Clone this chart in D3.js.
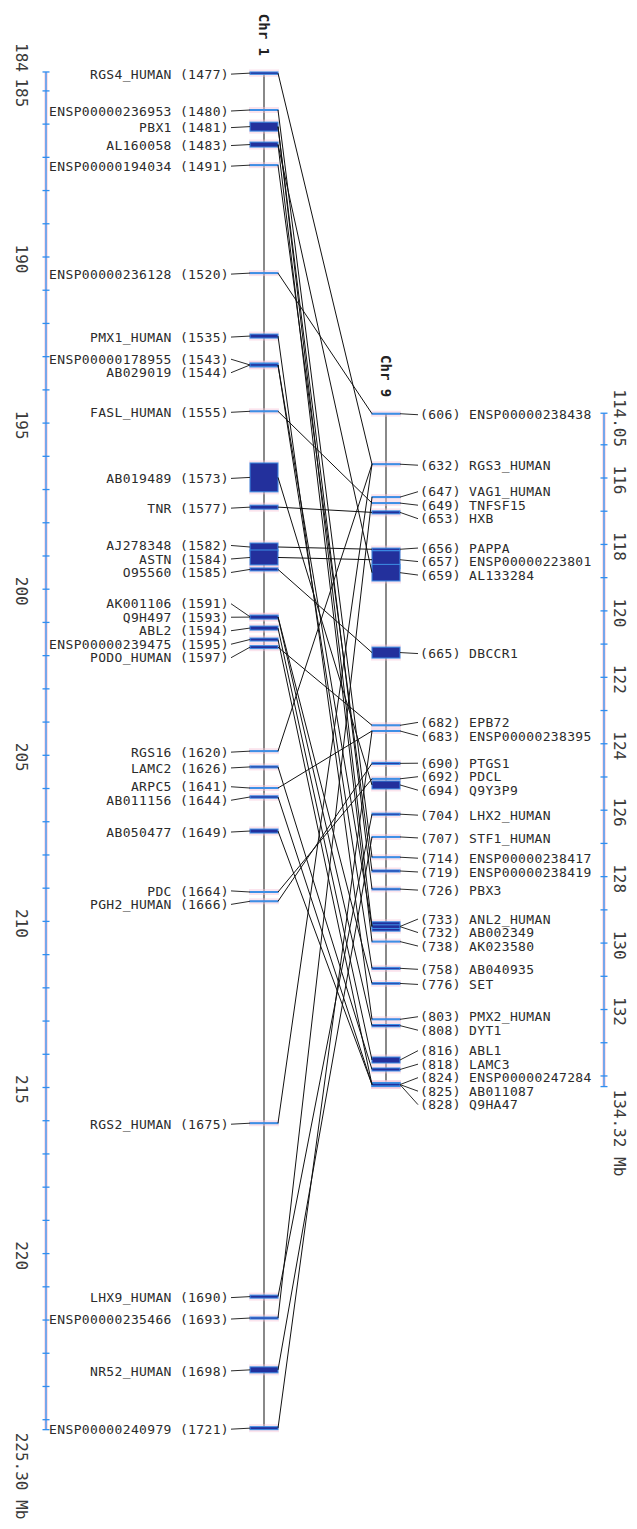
<!DOCTYPE html>
<html>
<head>
<meta charset="utf-8">
<script src="https://cdn.jsdelivr.net/npm/d3@7"></script>
<style>
  html, body { margin: 0; padding: 0; background: #fff; }
  svg { display: block; }
</style>
</head>
<body>
<svg id="chart" width="637" height="1529"></svg>
<script>
// Chromosome 1 genes (Mb)
const chr1Names = ["RGS4_HUMAN","ENSP00000236953","PBX1","AL160058","ENSP00000194034","ENSP00000236128","PMX1_HUMAN","ENSP00000178955","AB029019","FASL_HUMAN","AB019489","TNR","AJ278348","ASTN","O95560","AK001106","Q9H497","ABL2","ENSP00000239475","PODO_HUMAN","RGS16","LAMC2","ARPC5","AB011156","AB050477","PDC","PGH2_HUMAN","RGS2_HUMAN","LHX9_HUMAN","ENSP00000235466","NR52_HUMAN","ENSP00000240979"];
const chr1Ids = [1477,1480,1481,1483,1491,1520,1535,1543,1544,1555,1573,1577,1582,1584,1585,1591,1593,1594,1595,1597,1620,1626,1641,1644,1649,1664,1666,1675,1690,1693,1698,1721];
const chr1Start = [184.43,185.56,185.94,186.54,187.22,190.47,192.32,193.19,193.21,194.63,196.20,197.47,198.61,198.82,199.36,200.79,200.78,201.11,201.47,201.70,204.86,205.32,205.97,206.22,207.22,209.10,209.38,216.06,221.25,221.91,223.41,225.21];
const chr1End   = [184.50,185.59,186.21,186.69,187.25,190.50,192.44,193.31,193.29,194.66,197.07,197.59,198.85,199.27,199.45,200.87,200.90,201.23,201.56,201.79,204.89,205.38,206.00,206.29,207.34,209.13,209.41,216.09,221.34,221.97,223.59,225.30];

// Chromosome 9 genes (Mb)
const chr9Names = ["ENSP00000238438","RGS3_HUMAN","VAG1_HUMAN","TNFSF15","HXB","PAPPA","ENSP00000223801","AL133284","DBCCR1","EPB72","ENSP00000238395","PTGS1","PDCL","Q9Y3P9","LHX2_HUMAN","STF1_HUMAN","ENSP00000238417","ENSP00000238419","PBX3","ANL2_HUMAN","AB002349","AK023580","AB040935","SET","PMX2_HUMAN","DYT1","ABL1","LAMC3","ENSP00000247284","AB011087","Q9HA47"];
const chr9Ids = [606,632,647,649,653,656,657,659,665,682,683,690,692,694,704,707,714,719,726,733,732,738,758,776,803,808,816,818,824,825,828];
const chr9Start = [114.05,115.57,116.56,116.74,116.99,118.11,118.19,118.60,121.09,123.43,123.60,124.56,125.04,125.12,126.09,126.79,127.40,127.80,128.35,129.36,129.45,129.94,130.73,131.19,132.28,132.45,133.43,133.76,134.20,134.21,134.22];
const chr9End   = [114.08,115.60,116.59,116.77,117.08,118.18,118.73,119.10,121.42,123.46,123.63,124.62,125.07,125.36,126.15,126.82,127.43,127.86,128.40,129.64,129.56,129.97,130.79,131.24,132.31,132.52,133.61,133.85,134.32,134.31,134.30];

// Paralogous pairs linking the two segments
const linkFrom = [1477,1480,1481,1481,1483,1483,1491,1520,1535,1543,1544,1555,1573,1577,1582,1584,1585,1591,1593,1594,1595,1597,1620,1626,1641,1644,1649,1664,1666,1675,1690,1693,1698,1721];
const linkTo   = [632,714,726,733,659,738,719,606,803,758,732,649,694,653,656,657,665,776,808,816,824,682,632,818,683,825,828,692,690,632,704,647,707,683];

// Axis ticks
const chr1Range = [184.43, 225.30];
const chr9Range = [114.05, 134.32];
const chr1TickLabels = [185,190,195,200,205,210,215,220];
const chr9TickLabels = [116,118,120,122,124,126,128,130,132];
const chr1StartLabel = "184";
const chr1EndLabel = "225.30 Mb";
const chr9StartLabel = "114.05";
const chr9EndLabel = "134.32 Mb";

const svg = d3.select("#chart");
svg.append("rect").attr("width", 637).attr("height", 1529).attr("fill", "#fff");

const pxPerMb = 33.22;
const y1 = d3.scaleLinear().domain([190, 220]).range([257, 257 + 30 * pxPerMb]);
const y9 = d3.scaleLinear().domain([116, 132]).range([478, 478 + 16 * pxPerMb]);

const BLUE = "#2f8ff0";
const HALO = "#f6c3d8";
const BAR_FILL = "#23309c";
const BAR_EDGE = "#3d8fe6";
const INK = "#2b2b2b";
const FONT = "'DejaVu Sans Mono', monospace";

const chr1X = 264, chr9X = 386, barHalf = 14;
const axis1X = 46, axis9X = 604;

// ---- scale rulers ----
function ruler(x, scale, range, tickLabels, startLabel, endLabel, labelX, startAnchor, startY) {
  const g = svg.append("g");
  const top = scale(range[0]), bot = scale(range[1]);
  g.append("line").attr("x1", x).attr("x2", x).attr("y1", top).attr("y2", bot)
    .attr("stroke", HALO).attr("stroke-width", 3.5).attr("opacity", 0.7);
  g.append("line").attr("x1", x).attr("x2", x).attr("y1", top).attr("y2", bot)
    .attr("stroke", BLUE).attr("stroke-width", 1.3);
  const ticks = d3.range(Math.ceil(range[0]), Math.floor(range[1]) + 1);
  const all = [range[0], ...ticks, range[1]];
  g.selectAll("line.tick").data(all).join("line").attr("class", "tick")
    .attr("x1", x - 3.5).attr("x2", x + 3.5)
    .attr("y1", d => scale(d)).attr("y2", d => scale(d))
    .attr("stroke", BLUE).attr("stroke-width", 1.3);
  const lab = (txt, y, anchor) => g.append("text")
    .attr("transform", `translate(${labelX},${y}) rotate(90)`)
    .attr("text-anchor", anchor)
    .attr("font-family", FONT).attr("font-size", 16).attr("fill", "#3a3a3a")
    .text(txt);
  tickLabels.forEach(t => lab(String(t), scale(t) + 2, "middle"));
  lab(startLabel, startY, startAnchor);
  lab(endLabel, bot + 3, "start");
}
ruler(axis1X, y1, chr1Range, chr1TickLabels, chr1StartLabel, chr1EndLabel, 16, "end", y1(chr1Range[0]));
ruler(axis9X, y9, chr9Range, chr9TickLabels, chr9StartLabel, chr9EndLabel, 614, "middle", y9(chr9Range[0]) + 5);

// ---- label layout: push overlapping labels apart, centred on their group ----
function layoutLabels(centres, gap) {
  const order = d3.range(centres.length).sort((a, b) => centres[a] - centres[b]);
  let clusters = order.map(i => ({ idx: [i], mean: centres[i] }));
  const place = c => c.mean - (c.idx.length - 1) * gap / 2;
  let merged = true;
  while (merged) {
    merged = false;
    for (let k = 0; k < clusters.length - 1; k++) {
      const a = clusters[k], b = clusters[k + 1];
      const aEnd = place(a) + (a.idx.length - 1) * gap;
      if (place(b) - aEnd < gap - 1e-6) {
        const idx = a.idx.concat(b.idx);
        clusters.splice(k, 2, { idx, mean: d3.mean(idx, i => centres[i]) });
        merged = true;
        break;
      }
    }
  }
  const out = new Array(centres.length);
  clusters.forEach(c => c.idx.forEach((i, j) => { out[i] = place(c) + j * gap; }));
  return out;
}

// ---- chromosome drawing ----
function chromosome(cx, scale, names, ids, starts, ends, side) {
  const g = svg.append("g");
  const centres = ids.map((_, i) => (scale(starts[i]) + scale(ends[i])) / 2);
  const labelY = layoutLabels(centres, 13.5);
  const top = d3.min(starts.map(scale)), bot = d3.max(ends.map(scale));
  g.append("line").attr("x1", cx).attr("x2", cx).attr("y1", top).attr("y2", bot)
    .attr("stroke", "#3a3a3a").attr("stroke-width", 1.2);
  g.selectAll("rect.halo").data(ids).join("rect").attr("class", "halo")
    .attr("x", cx - barHalf - 1).attr("width", 2 * barHalf + 2)
    .attr("y", (d, i) => scale(starts[i]) - 2.5)
    .attr("height", (d, i) => Math.max(1, scale(ends[i]) - scale(starts[i])) + 5)
    .attr("fill", HALO).attr("opacity", 0.45);
  g.selectAll("rect.bar").data(ids).join("rect").attr("class", "bar")
    .attr("x", cx - barHalf).attr("width", 2 * barHalf)
    .attr("y", (d, i) => scale(starts[i]))
    .attr("height", (d, i) => Math.max(0.8, scale(ends[i]) - scale(starts[i])))
    .attr("fill", BAR_FILL).attr("stroke", BAR_EDGE).attr("stroke-width", 1);
  const inner = side === "left" ? cx - barHalf : cx + barHalf;
  const outer = side === "left" ? cx - barHalf - 19 : cx + barHalf + 18;
  g.selectAll("line.conn").data(ids).join("line").attr("class", "conn")
    .attr("x1", inner).attr("y1", (d, i) => centres[i])
    .attr("x2", outer).attr("y2", (d, i) => labelY[i] + 1)
    .attr("stroke", INK).attr("stroke-width", 1);
  g.selectAll("text.lab").data(ids).join("text").attr("class", "lab")
    .attr("x", side === "left" ? outer - 2 : outer + 2)
    .attr("y", (d, i) => labelY[i] + 1)
    .attr("dy", "0.36em")
    .attr("text-anchor", side === "left" ? "end" : "start")
    .attr("font-family", FONT).attr("font-size", 13).attr("letter-spacing", 0.35)
    .attr("fill", INK)
    .text((d, i) => side === "left" ? `${names[i]} (${d})` : `(${d}) ${names[i]}`);
  return { centres, top };
}

const c1 = chromosome(chr1X, y1, chr1Names, chr1Ids, chr1Start, chr1End, "left");
const c9 = chromosome(chr9X, y9, chr9Names, chr9Ids, chr9Start, chr9End, "right");

// chromosome titles
[[chr1X, c1.top, "Chr 1"], [chr9X, c9.top, "Chr 9"]].forEach(([x, top, t]) => {
  svg.append("text")
    .attr("transform", `translate(${x - 5},${top - 16}) rotate(90)`)
    .attr("text-anchor", "end")
    .attr("font-family", FONT).attr("font-size", 14).attr("font-weight", "bold")
    .attr("fill", "#222").text(t);
});

// ---- links between paralogous genes ----
const pos1 = new Map(chr1Ids.map((id, i) => [id, c1.centres[i]]));
const pos9 = new Map(chr9Ids.map((id, i) => [id, c9.centres[i]]));
svg.append("g").selectAll("line").data(linkFrom).join("line")
  .attr("x1", chr1X + barHalf).attr("y1", d => pos1.get(d))
  .attr("x2", chr9X - barHalf).attr("y2", (d, i) => pos9.get(linkTo[i]))
  .attr("stroke", "#111").attr("stroke-width", 1);
</script>
</body>
</html>
